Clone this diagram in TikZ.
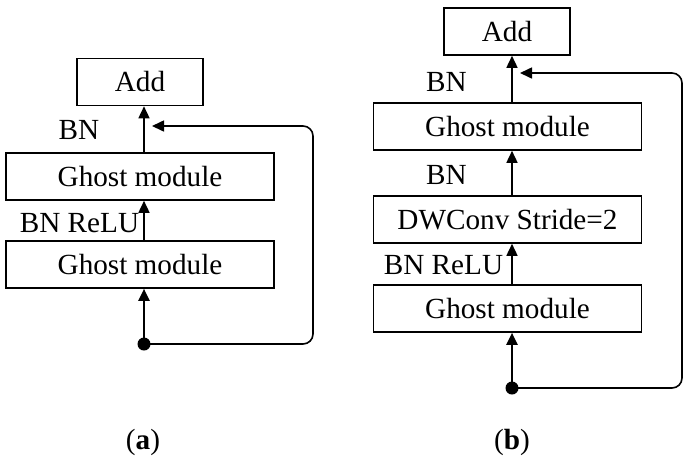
\documentclass[tikz,border=0pt]{standalone}
\usepackage{fontspec}
\setmainfont{Liberation Serif}
\usetikzlibrary{arrows.meta}
\begin{document}
\begin{tikzpicture}[x=0.5pt,y=-0.5pt,
  every node/.style={font=\fontsize{14.6}{16}\selectfont, inner sep=0pt},
  blk/.style={draw, line width=0.8pt, minimum height=23.5pt},
  addbox/.style={blk, minimum width=63pt},
  wide/.style={blk, minimum width=134pt},
  flow/.style={line width=0.8pt, -{Triangle[length=6pt,width=5.5pt]}},
  inflow/.style={line width=1.2pt, -{Triangle[length=6pt,width=5.5pt]}},
  skip/.style={line width=0.8pt, rounded corners=5pt, -{Triangle[length=6pt,width=5.5pt]}},
  dotc/.style={circle, fill=black, minimum size=6.5pt}]
\useasboundingbox (0,0) rectangle (697,462);
% (a)
\node[addbox] (addA) at (140,82) {Add};
\node[wide] (gA1) at (140,176.5) {Ghost module};
\node[wide] (gA2) at (140,264.5) {Ghost module};
\node[dotc] (dA) at (144,344) {};
\coordinate (cA) at (313,235);
\coordinate (skA) at (152,126);
\node (bnA1) at (79,130) {BN};
\node (bnA2) at (79.5,223) {BN ReLU};
\draw[inflow] (dA.center) -- (dA |- gA2.south);
\draw[flow] (dA |- gA2.north) -- (dA |- gA1.south);
\draw[flow] (dA |- gA1.north) -- (dA |- addA.south);
\draw[skip] (dA.center) -| (cA) |- (skA);
\node (capA) at (143,442) {(\textbf{a})};
% (b)
\node[addbox] (addB) at (507,31.5) {Add};
\node[wide] (gB1) at (507.5,126.5) {Ghost module};
\node[wide] (dwB) at (507.5,219.5) {DWConv Stride=2};
\node[wide] (gB2) at (507.5,308.5) {Ghost module};
\node[dotc] (dB) at (512,388) {};
\coordinate (cB) at (682,230);
\coordinate (skB) at (520,73);
\node (bnB1) at (446.5,82) {BN};
\node (bnB2) at (446.5,175) {BN};
\node (bnB3) at (443.5,265) {BN ReLU};
\draw[inflow] (dB.center) -- (dB |- gB2.south);
\draw[flow] (dB |- gB2.north) -- (dB |- dwB.south);
\draw[flow] (dB |- dwB.north) -- (dB |- gB1.south);
\draw[flow] (dB |- gB1.north) -- (dB |- addB.south);
\draw[skip] (dB.center) -| (cB) |- (skB);
\node (capB) at (512,442) {(\textbf{b})};
\end{tikzpicture}
\end{document}
